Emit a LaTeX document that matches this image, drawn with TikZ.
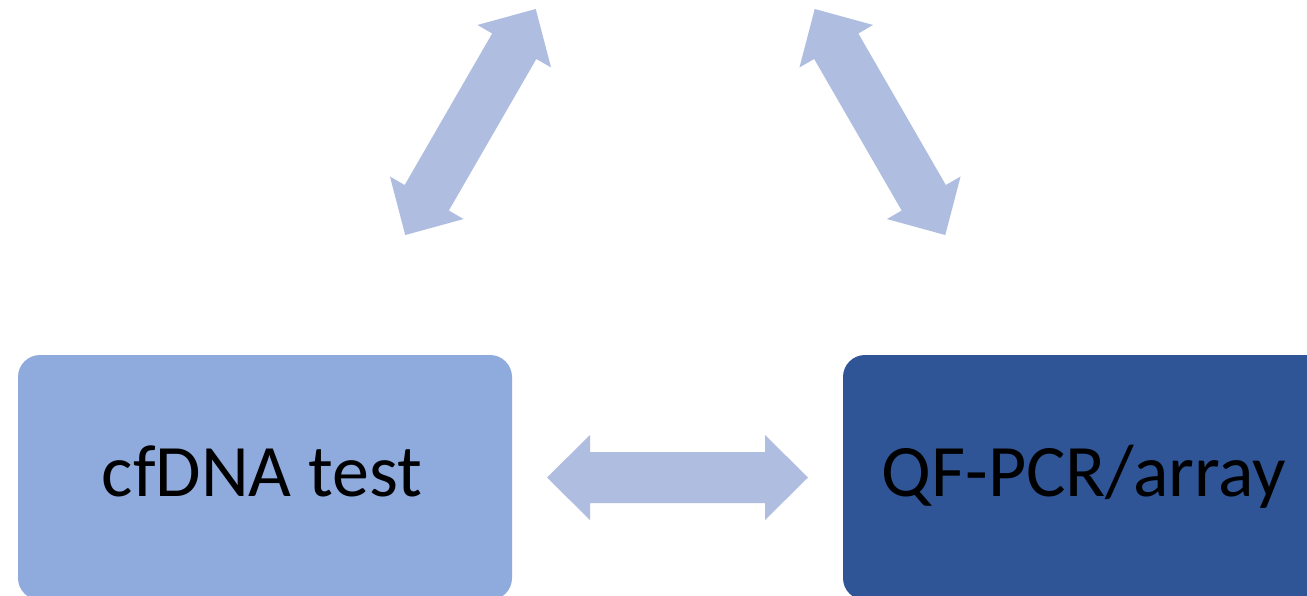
\documentclass[tikz,border=0pt]{standalone}
\usepackage{fontspec}
\setmainfont{Carlito}
\definecolor{boxlight}{HTML}{8FAADC}
\definecolor{boxdark}{HTML}{2F5597}
\definecolor{arrowfill}{HTML}{AFBDE0}
\tikzset{
  box/.style={rounded corners=22pt, minimum width=494pt, minimum height=245pt,
    inner sep=0pt},
  lbl/.style={inner sep=0pt, text=black, font=\fontsize{74}{88}\selectfont, anchor=base},
  dblarrow/.pic={\fill[arrowfill] (-130.5,0) -- (-87.5,42.5) -- (-87.5,25.5)
    -- (87.5,25.5) -- (87.5,42.5) -- (130.5,0) -- (87.5,-42.5) -- (87.5,-25.5)
    -- (-87.5,-25.5) -- (-87.5,-42.5) -- cycle;}
}
\begin{document}
\begin{tikzpicture}[x=1pt,y=-1pt]
\useasboundingbox (0,0) rectangle (1307,595);
\clip (0,0) rectangle (1307,595);
\fill[white] (0,0) rectangle (1307,595);
\node[box, fill=boxlight] (cf) at (265,477.5) {};
\node[box, fill=boxdark] (qf) at (1090,477.5) {};
\node[lbl] (cft) at (262,496) {cfDNA test};
\node[lbl] (qft) at (1084,496) {QF-PCR/array};
\coordinate (harrow) at (677.5,477.5);
\coordinate (larrow) at (470.5,122);
\coordinate (rarrow) at (880,122);
\pic at (harrow) {dblarrow};
\pic[rotate=60] at (larrow) {dblarrow};
\pic[rotate=-60] at (rarrow) {dblarrow};
\end{tikzpicture}
\end{document}
